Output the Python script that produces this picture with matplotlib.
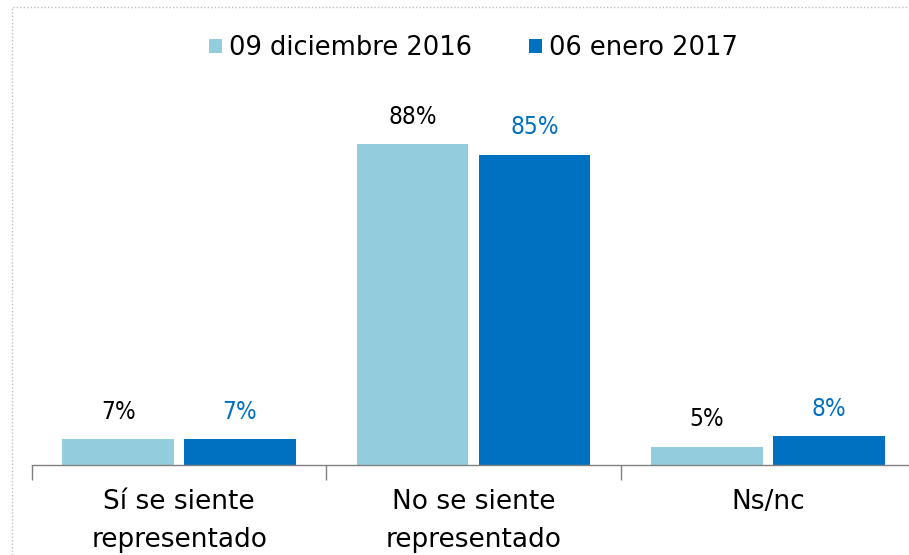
import matplotlib
matplotlib.use("Agg")
import matplotlib.pyplot as plt
from matplotlib.patches import Rectangle
import numpy as np

categories = ["Sí se siente\nrepresentado", "No se siente\nrepresentado", "Ns/nc"]
series_names = ["09 diciembre 2016", "06 enero 2017"]
values_dec = [7, 88, 5]
values_jan = [7, 85, 8]
colors = ["#93CDDD", "#0070C0"]
label_colors = ["#000000", "#0070C0"]

plt.rcParams['font.family'] = ['DejaVu Sans']

W, H = 909, 555
fig = plt.figure(figsize=(W / 100, H / 100), dpi=100)

# axes placed in pixel coordinates (right part clipped like reference)
left_px, right_px = 32, 915
bottom_px, top_px = 465, 100
ax = fig.add_axes([left_px / W, (H - bottom_px) / H,
                   (right_px - left_px) / W, (bottom_px - top_px) / H])

x = np.arange(len(categories))
bw = 0.38
gap = 0.034
bars1 = ax.bar(x - (bw + gap) / 2, values_dec, bw, color=colors[0], label=series_names[0])
bars2 = ax.bar(x + (bw + gap) / 2, values_jan, bw, color=colors[1], label=series_names[1])

for bars, vals, c in [(bars1, values_dec, label_colors[0]), (bars2, values_jan, label_colors[1])]:
    for b, v in zip(bars, vals):
        ax.annotate(f"{v}%", (b.get_x() + b.get_width() / 2, b.get_height()),
                    xytext=(0, 11), textcoords="offset points",
                    ha="center", va="bottom", fontsize=17.5, color=c,
                    fontstretch="condensed")

ax.set_xlim(-0.5, len(categories) - 0.5)
ax.set_ylim(0, 100)
ax.set_yticks([])
for s in ["top", "right", "left"]:
    ax.spines[s].set_visible(False)
ax.spines["bottom"].set_color("#808080")
ax.spines["bottom"].set_linewidth(1.0)

ax.set_xticks(x)
ax.set_xticklabels(categories, fontsize=19, linespacing=1.6)
ax.tick_params(axis="x", which="major", length=0, pad=17)
ax.set_xticks(np.arange(len(categories) + 1) - 0.5, minor=True)
ax.tick_params(axis="x", which="minor", length=11, color="#808080", width=1.0)

legend_center_y_px = 48
leg = fig.legend(handles=[bars1, bars2], labels=series_names,
                 loc="center", bbox_to_anchor=((left_px + right_px) / 2 / W, 1 - legend_center_y_px / H),
                 ncol=2, frameon=False, fontsize=18.5, handlelength=0.5, handleheight=0.5,
                 handletextpad=0.3, columnspacing=2.2)

# dotted outer frame
fig.patches.append(Rectangle((12 / W, -0.1), 1.2, 1.1 - 7 / H, transform=fig.transFigure,
                             fill=False, edgecolor="#BFBFBF", linestyle=(0, (1, 1.5)),
                             linewidth=1.0))

fig.savefig("out.png", dpi=100)
